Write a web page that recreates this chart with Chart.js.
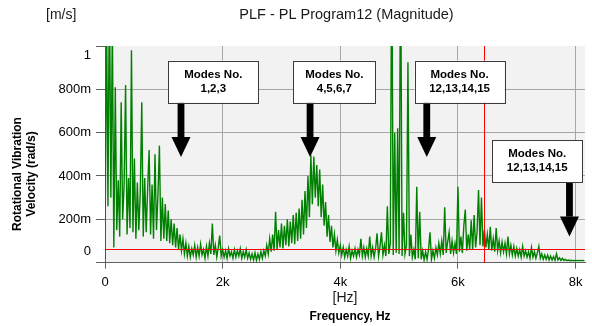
<!DOCTYPE html>
<html>
<head>
<meta charset="utf-8">
<script src="https://cdn.jsdelivr.net/npm/chart.js@4.4.1/dist/chart.umd.min.js"></script>
<style>
  html, body { margin: 0; padding: 0; background: #fff; }
  canvas { display: block; }
</style>
</head>
<body>
<canvas id="spectrum" width="592" height="326"></canvas>
<script>
// spectrum bins, 25 Hz apart, magnitude in milli rad/s
const freqStep = 25;
const freqMax = 8160;
const velocity = [
  15, 1200, 260, 1300, 300, 1100, 70, 810, 150, 380, 120, 740, 200, 360, 820, 130, 390, 160, 980, 140,
  480, 110, 370, 150, 330, 740, 120, 390, 140, 340, 520, 130, 360, 110, 500, 150, 310, 540, 100, 300,
  110, 270, 100, 240, 90, 200, 80, 180, 70, 160, 60, 130, 55, 110, 40, 90, 30, 75, 25, 65,
  35, 80, 25, 70, 30, 85, 35, 60, 20, 75, 30, 90, 40, 180, 35, 80, 25, 70, 125, 30,
  60, 25, 55, 20, 65, 30, 50, 20, 60, 25, 55, 30, 65, 20, 50, 25, 60, 20, 45, 15,
  40, 12, 45, 10, 40, 15, 50, 20, 55, 30, 80, 40, 110, 50, 130, 55, 235, 60, 150, 70,
  180, 65, 170, 80, 200, 75, 190, 90, 220, 85, 230, 100, 250, 110, 290, 130, 330, 160, 400, 210,
  495, 270, 490, 300, 450, 260, 430, 210, 360, 170, 280, 120, 220, 95, 170, 70, 130, 55, 105, 45,
  80, 35, 70, 25, 60, 30, 75, 20, 55, 30, 65, 25, 60, 35, 110, 30, 70, 25, 65, 30,
  120, 30, 70, 25, 65, 135, 30, 75, 140, 35, 80, 30, 260, 40, 90, 1500, 35, 600, 45, 620,
  40, 1500, 30, 230, 40, 80, 925, 30, 130, 25, 60, 15, 350, 20, 235, 15, 55, 12, 50, 15,
  60, 140, 15, 55, 20, 70, 35, 90, 40, 100, 35, 255, 45, 95, 140, 40, 100, 45, 90, 40,
  350, 50, 120, 45, 170, 245, 55, 130, 60, 195, 60, 220, 70, 140, 335, 80, 300, 75, 150, 70,
  130, 60, 165, 55, 110, 50, 160, 55, 100, 45, 95, 50, 90, 40, 120, 40, 80, 35, 75, 30,
  65, 30, 60, 25, 75, 30, 55, 25, 50, 20, 70, 25, 50, 20, 45, 75, 20, 40, 15, 35,
  15, 35, 12, 30, 12, 28, 10, 40, 12, 22, 10, 20, 10, 15, 9, 12, 9, 11, 9, 10,
  9, 10, 9, 10, 9, 10, 9
];

const xTicks = [0, 2000, 4000, 6000, 8000];
const xTickLabels = ["0", "2k", "4k", "6k", "8k"];
const yTicks = [0, 200, 400, 600, 800, 1000];
const yTickLabels = ["0", "200m", "400m", "600m", "800m", "1"];

const thresholdLevel = 65;
const cursorFreq = 6446;

const modeNotes = [
  { lines: ["Modes No.", "1,2,3"], freq: 1292, value: 487 },
  { lines: ["Modes No.", "4,5,6,7"], freq: 3486, value: 487 },
  { lines: ["Modes No.", "12,13,14,15"], freq: 5470, value: 487 },
  { lines: ["Modes No.", "12,13,14,15"], freq: 7896, value: 120 }
];
// box offset from arrow tip and box width, px
const noteBoxes = [
  { dx: -12.7, width: 90 },
  { dx: -16.7, width: 82 },
  { dx: -12.2, width: 90 },
  { dx: -77, width: 89.5 }
];

const fontFamily = "'Liberation Sans', Arial, sans-serif";

const spectrumDecor = {
  id: "spectrumDecor",
  beforeDraw(chart) {
    const { ctx, chartArea: a } = chart;
    ctx.save();
    ctx.fillStyle = "#ffffff";
    ctx.fillRect(0, 0, chart.width, chart.height);
    ctx.fillStyle = "#f2f2f2";
    ctx.fillRect(a.left, a.top, a.right - a.left, a.bottom - a.top);
    ctx.restore();
  },
  afterDatasetsDraw(chart) {
    const { ctx, chartArea: a } = chart;
    const xs = chart.scales.x;
    const ys = chart.scales.y;
    ctx.save();

    // red cursor lines
    ctx.strokeStyle = "#ff0000";
    ctx.lineWidth = 1;
    const ly = Math.round(ys.getPixelForValue(thresholdLevel)) + 0.5;
    const lx = Math.round(xs.getPixelForValue(cursorFreq)) + 0.5;
    ctx.beginPath();
    ctx.moveTo(a.left, ly);
    ctx.lineTo(a.right, ly);
    ctx.moveTo(lx, a.top);
    ctx.lineTo(lx, a.bottom);
    ctx.stroke();

    // mode callouts
    modeNotes.forEach((note, i) => {
      const box = noteBoxes[i];
      const tipX = xs.getPixelForValue(note.freq);
      const tipY = ys.getPixelForValue(note.value);
      const bottom = tipY - 54.5;
      const top = bottom - 42;
      const left = tipX + box.dx;

      ctx.fillStyle = "#000000";
      ctx.fillRect(tipX - 3.4, bottom, 6.8, tipY - 20 - bottom);
      ctx.beginPath();
      ctx.moveTo(tipX - 9.5, tipY - 20);
      ctx.lineTo(tipX + 9.5, tipY - 20);
      ctx.lineTo(tipX, tipY);
      ctx.closePath();
      ctx.fill();

      ctx.fillStyle = "#ffffff";
      ctx.fillRect(left, top, box.width, 42);
      ctx.strokeStyle = "#3a3a3a";
      ctx.lineWidth = 1;
      ctx.strokeRect(Math.round(left) + 0.5, Math.round(top) + 0.5, Math.round(box.width), 42);

      ctx.fillStyle = "#000000";
      ctx.font = "bold 11.5px " + fontFamily;
      ctx.textAlign = "center";
      ctx.textBaseline = "middle";
      ctx.fillText(note.lines[0], left + box.width / 2, top + 14);
      ctx.fillText(note.lines[1], left + box.width / 2, top + 28);
    });
    ctx.restore();
  },
  afterDraw(chart) {
    const { ctx, chartArea: a } = chart;
    const ys = chart.scales.y;
    ctx.save();
    ctx.fillStyle = "#000000";

    // y tick labels, end labels kept inside the axis
    ctx.font = "13px " + fontFamily;
    ctx.textAlign = "right";
    ctx.textBaseline = "middle";
    yTicks.forEach((v, i) => {
      let py = ys.getPixelForValue(v);
      py = Math.min(Math.max(py, a.top + 9), a.bottom - 11);
      ctx.fillText(yTickLabels[i], 91, py);
    });

    ctx.fillStyle = "#1a1a1a";
    ctx.font = "14.5px " + fontFamily;
    ctx.textAlign = "center";
    ctx.fillText("PLF - PL Program12 (Magnitude)", 346.5, 15);
    ctx.font = "14px " + fontFamily;
    ctx.textAlign = "left";
    ctx.fillText("[m/s]", 46, 15);
    ctx.textAlign = "center";
    ctx.fillText("[Hz]", 345, 298);

    ctx.fillStyle = "#000000";
    ctx.font = "bold 12px " + fontFamily;
    ctx.fillText("Frequency, Hz", 350, 317);

    ctx.translate(25, 174);
    ctx.rotate(-Math.PI / 2);
    ctx.fillText("Rotational Vibration", 0, -7);
    ctx.fillText("Velocity (rad/s)", 0, 7);
    ctx.restore();
  }
};

const points = velocity.map((v, i) => ({ x: i * freqStep, y: v }));

const ctx = document.getElementById("spectrum").getContext("2d");
new Chart(ctx, {
  type: "line",
  data: {
    datasets: [
      {
        data: points,
        borderColor: "#008000",
        borderWidth: 1.4,
        pointRadius: 0,
        tension: 0,
        fill: false
      }
    ]
  },
  options: {
    responsive: false,
    animation: false,
    devicePixelRatio: 1,
    layout: { padding: { top: 46, right: 7, left: 0, bottom: 0 } },
    plugins: {
      legend: { display: false },
      tooltip: { enabled: false }
    },
    scales: {
      x: {
        type: "linear",
        min: 0,
        max: freqMax,
        afterFit: (scale) => { scale.height = 63.4; },
        afterBuildTicks: (scale) => { scale.ticks = xTicks.map((v) => ({ value: v })); },
        ticks: {
          autoSkip: false,
          maxRotation: 0,
          padding: 6,
          color: "#000000",
          font: { family: fontFamily, size: 13 },
          callback: (v) => {
            const i = xTicks.indexOf(v);
            return i >= 0 ? xTickLabels[i] : "";
          }
        },
        grid: { color: "#a6a6a6", tickColor: "#606060", tickLength: 6 },
        border: { color: "#606060" }
      },
      y: {
        min: 0,
        max: 1000,
        afterFit: (scale) => { scale.width = 105; },
        afterBuildTicks: (scale) => { scale.ticks = yTicks.map((v) => ({ value: v })); },
        ticks: {
          color: "rgba(0,0,0,0)",
          font: { family: fontFamily, size: 13 }
        },
        grid: {
          color: (c) => (c.tick && c.tick.value === 1000 ? "rgba(0,0,0,0)" : "#a6a6a6"),
          tickColor: "#606060",
          tickLength: 9
        },
        border: { color: "#606060" }
      }
    }
  },
  plugins: [spectrumDecor]
});
</script>
</body>
</html>
